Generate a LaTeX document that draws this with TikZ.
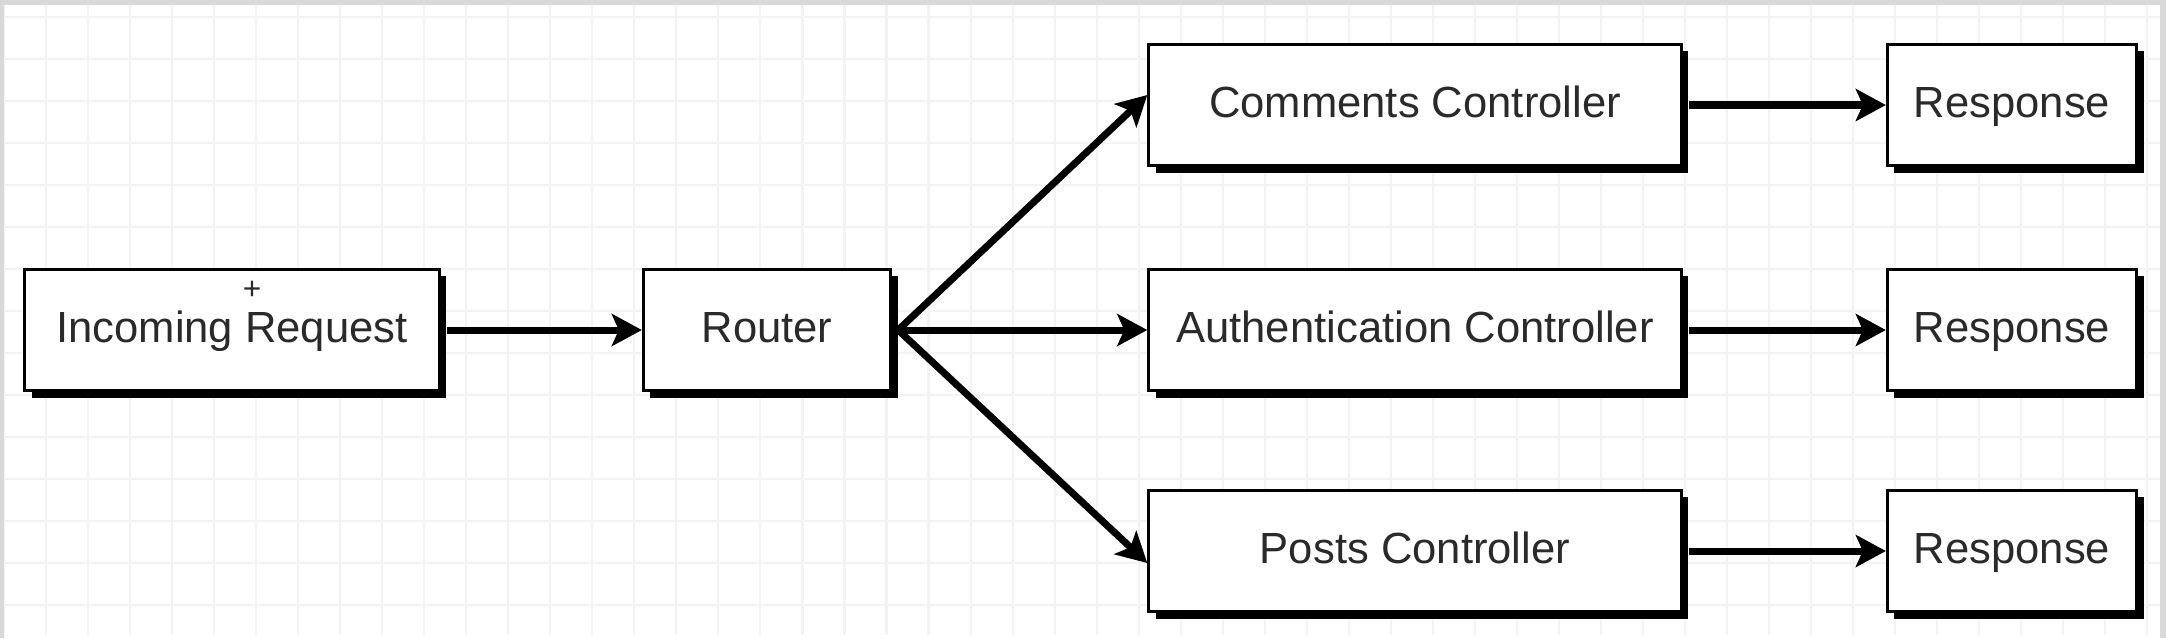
\documentclass[tikz,border=0pt]{standalone}
\usepackage{fontspec}
\setmainfont{Liberation Sans}
\usetikzlibrary{arrows.meta,shadows}
\definecolor{gridgray}{HTML}{F3F3F3}
\definecolor{framegray}{HTML}{D9D9D9}
\definecolor{textgray}{HTML}{2A2A2A}
\tikzset{
    block/.style={draw=black, line width=0.9pt, fill=white, minimum height=1.21cm,
        font=\fontsize{12.4}{14}\selectfont, text=textgray, text height=0.72em, text depth=0em,
        drop shadow={shadow xshift=0.07cm, shadow yshift=-0.07cm, fill=black, opacity=1}},
    flow/.style={line width=2pt, -{Stealth[length=0.3cm, width=0.32cm, inset=0.07cm]}}
}
\begin{document}
\begin{tikzpicture}[x=0.01cm,y=-0.01cm]
            \useasboundingbox (0,0) rectangle (2166,638);
            \fill[white] (0,0) rectangle (2166,638);
            \draw[step=0.42cm,gridgray,line width=0.6pt,xshift=0.04cm,yshift=0.25cm] (-4,-25) grid (2200,660);
            \fill[framegray] (0,0) rectangle (2166,5);
            \fill[framegray] (0,0) rectangle (4,638);
            \fill[framegray] (2160,0) rectangle (2166,638);

            % boxes
            \node[block, minimum width=4.14cm] (request) at (232,330) {Incoming Request};
            \node[font=\fontsize{9}{9}\selectfont, text=textgray] (cursor) at (252,290) {+};
            \node[block, minimum width=2.47cm] (router) at (767,330) {Router};
            \node[block, minimum width=5.32cm] (comments) at (1415,105) {Comments Controller};
            \node[block, minimum width=5.32cm] (auth) at (1415,330) {Authentication Controller};
            \node[block, minimum width=5.32cm] (posts) at (1415,551) {Posts Controller};
            \node[block, minimum width=2.49cm] (resp1) at (2012,105) {Response};
            \node[block, minimum width=2.49cm] (resp2) at (2012,330) {Response};
            \node[block, minimum width=2.49cm] (resp3) at (2012,551) {Response};

            % arrows
            \draw[flow] ([xshift=0.06cm]request.east) -- (router.west);
            \draw[flow] ([xshift=0.06cm]router.east) -- ([yshift=0.1cm]comments.west);
            \draw[flow] ([xshift=0.06cm]router.east) -- (auth.west);
            \draw[flow] ([xshift=0.06cm]router.east) -- ([yshift=-0.12cm]posts.west);
            \draw[flow] ([xshift=0.06cm]comments.east) -- (resp1.west);
            \draw[flow] ([xshift=0.06cm]auth.east) -- (resp2.west);
            \draw[flow] ([xshift=0.06cm]posts.east) -- (resp3.west);
\end{tikzpicture}
\end{document}
